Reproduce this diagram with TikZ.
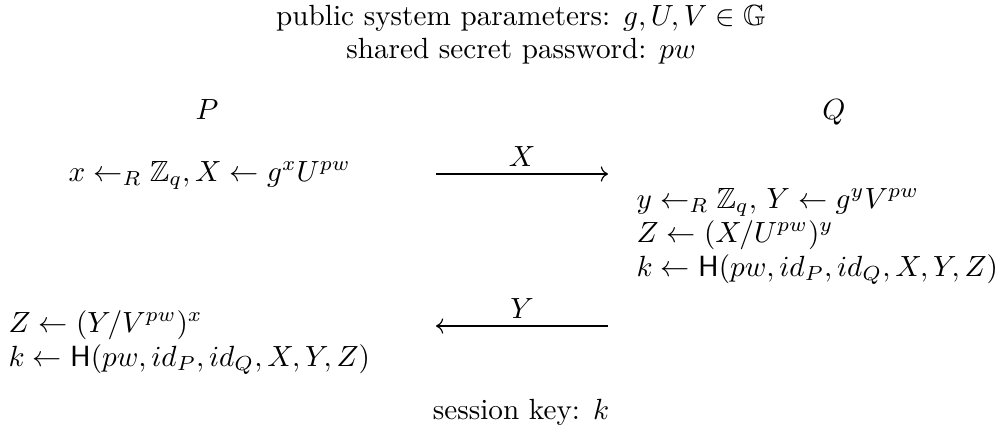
\documentclass[tikz,border=0pt]{standalone}
\usepackage{amsmath,amssymb}
\usepackage{tikz}
\usetikzlibrary{arrows.meta,positioning,calc}

\begin{document}
\begin{tikzpicture}[
    x=0.3425pt,y=-0.3425pt,
    info/.style={inner sep=0pt,anchor=base},
    party/.style={inner sep=0pt,anchor=base},
    stepline/.style={inner sep=0pt,anchor=base west},
    msg/.style={->,line width=0.4pt}
]
\useasboundingbox (0,0) rectangle (1002,435);
% public data
\node[info] (pub) at (521,25) {public system parameters: $g, U, V \in \mathbb{G}$};
\node[info] (pw) at (521,58) {shared secret password: $pw$};
% the two parties
\node[party] (P) at (207,119) {$P$};
\node[party] (Q) at (834,119) {$Q$};
% first flow
\node[stepline] (p1) at (68,181) {$x \leftarrow_R \mathbb{Z}_q, X \leftarrow g^x U^{pw}$};
\coordinate (xs) at (436,174);
\coordinate (xe) at (608,174);
\draw[msg] (xs) -- node[above,inner sep=2.5pt] (lx) {$X$} (xe);
% Q computes
\node[stepline] (q1) at (636,208) {$y \leftarrow_R \mathbb{Z}_q,\, Y \leftarrow g^y V^{pw}$};
\node[stepline] (q2) at (636,242) {$Z \leftarrow (X/U^{pw})^y$};
\node[stepline] (q3) at (636,276) {$k \leftarrow \mathsf{H}(pw, id_P, id_Q, X, Y, Z)$};
% second flow
\coordinate (ys) at (608,326);
\coordinate (ye) at (436,326);
\draw[msg] (ys) -- node[above,inner sep=2.5pt] (ly) {$Y$} (ye);
% P computes
\node[stepline] (p2) at (8,332) {$Z \leftarrow (Y/V^{pw})^x$};
\node[stepline] (p3) at (8,366) {$k \leftarrow \mathsf{H}(pw, id_P, id_Q, X, Y, Z)$};
% result
\node[info] (key) at (521,419) {session key: $k$};
\end{tikzpicture}
\end{document}
